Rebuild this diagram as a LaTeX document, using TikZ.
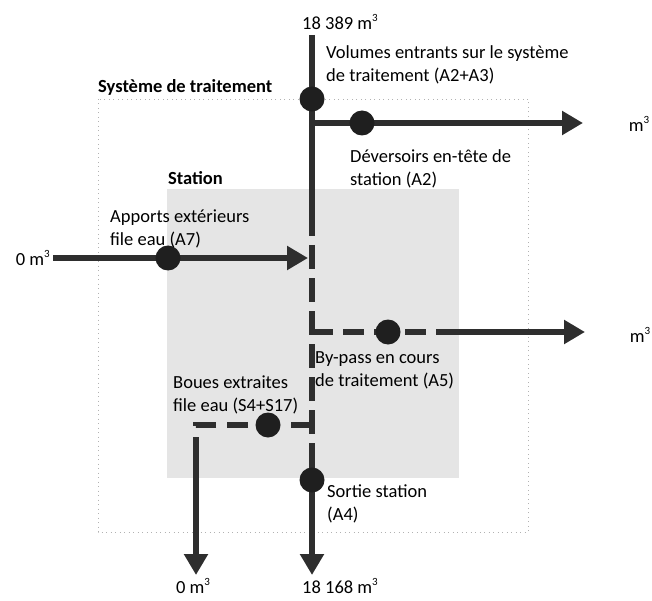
\documentclass[tikz,border=0pt]{standalone}
\usepackage{fontspec}
\setmainfont{Carlito}
\usetikzlibrary{arrows.meta}
\newcommand\cubesup{\raisebox{0.42em}{\fontsize{11}{11}\selectfont 3}}
\begin{document}
\begin{tikzpicture}[x=1pt,y=-1pt,
  flow/.style={line width=5.5pt,draw=black!82},
  flowdash/.style={flow,dash pattern=on 24pt off 9pt},
  tip/.style={-{Triangle[length=21pt,width=23pt]}},
  meter/.style={circle,fill=black!88,minimum size=25pt,inner sep=0pt},
  lbl/.style={font=\fontsize{18.5}{23}\selectfont,align=left,inner sep=0pt,anchor=west},
  vol/.style={font=\fontsize{18.5}{23}\selectfont,inner sep=0pt},
  ttl/.style={font=\fontsize{18.5}{23}\selectfont\bfseries,inner sep=0pt,anchor=west}]
\useasboundingbox (0,0) rectangle (652,601);
% frames
\draw[draw=black!30,line width=0.6pt,dash pattern=on 1pt off 3.5pt] (98,99) rectangle (528,532);
\fill[black!10] (167,189) rectangle (459,478);
% coordinates
\coordinate (top) at (312,35);
\coordinate (dashA) at (312,212);
\coordinate (dashB) at (312,447);
\coordinate (bot) at (312,575);
\coordinate (jA2) at (312,123);
\coordinate (endA2) at (583,123);
\coordinate (startA7) at (53,258);
\coordinate (endA7) at (308,258);
\coordinate (jA5) at (312,332);
\coordinate (solA5) at (443,332);
\coordinate (endA5) at (585,332);
\coordinate (jS) at (312,425);
\coordinate (cornerS) at (196,425);
\coordinate (solS) at (196,450);
\coordinate (endS) at (196,575);
% lines
\draw[flow] (top) -- (dashA);
\draw[flowdash] (dashA) -- (dashB);
\draw[flow,tip] (dashB) -- (bot);
\draw[flow,tip] (jA2) -- (endA2);
\draw[flow,tip] (startA7) -- (endA7);
\draw[flowdash,dash pattern=on 21pt off 10pt] (jA5) -- (solA5);
\draw[flow,tip] (solA5) -- (endA5);
\draw[flowdash,dash pattern=on 21pt off 11pt] (jS) -- (cornerS) -- (solS);
\draw[flow,tip] (solS) -- (endS);
% meters
\node[meter] (mA23) at (312,99) {};
\node[meter] (mA2) at (362,123) {};
\node[meter] (mA7) at (168,258) {};
\node[meter] (mA5) at (388,332) {};
\node[meter] (mS) at (268,425) {};
\node[meter] (mA4) at (312,480) {};
% texts
\node[vol] (vin) at (340,22) {18 389 m\cubesup};
\node[vol] (vout) at (340,586) {18 168 m\cubesup};
\node[vol] (vS) at (193,586) {0 m\cubesup};
\node[vol,anchor=east] (vA7) at (50,258) {0 m\cubesup};
\node[vol] (vA2) at (639,124) {m\cubesup};
\node[vol] (vA5) at (640,335) {m\cubesup};
\node[ttl] (tsys) at (98,87) {Système de traitement};
\node[ttl] (tsta) at (168,178) {Station};
\node[lbl] (lA23) at (326,64.5) {Volumes entrants sur le système\\de traitement (A2+A3)};
\node[lbl] (lA2) at (350,168.5) {Déversoirs en-tête de\\station (A2)};
\node[lbl] (lA7) at (110,228.5) {Apports extérieurs\\file eau (A7)};
\node[lbl] (lA5) at (315,370) {By-pass en cours\\de traitement (A5)};
\node[lbl] (lS) at (173,395) {Boues extraites\\file eau (S4+S17)};
\node[lbl] (lA4) at (327,504) {Sortie station\\(A4)};
\end{tikzpicture}
\end{document}
